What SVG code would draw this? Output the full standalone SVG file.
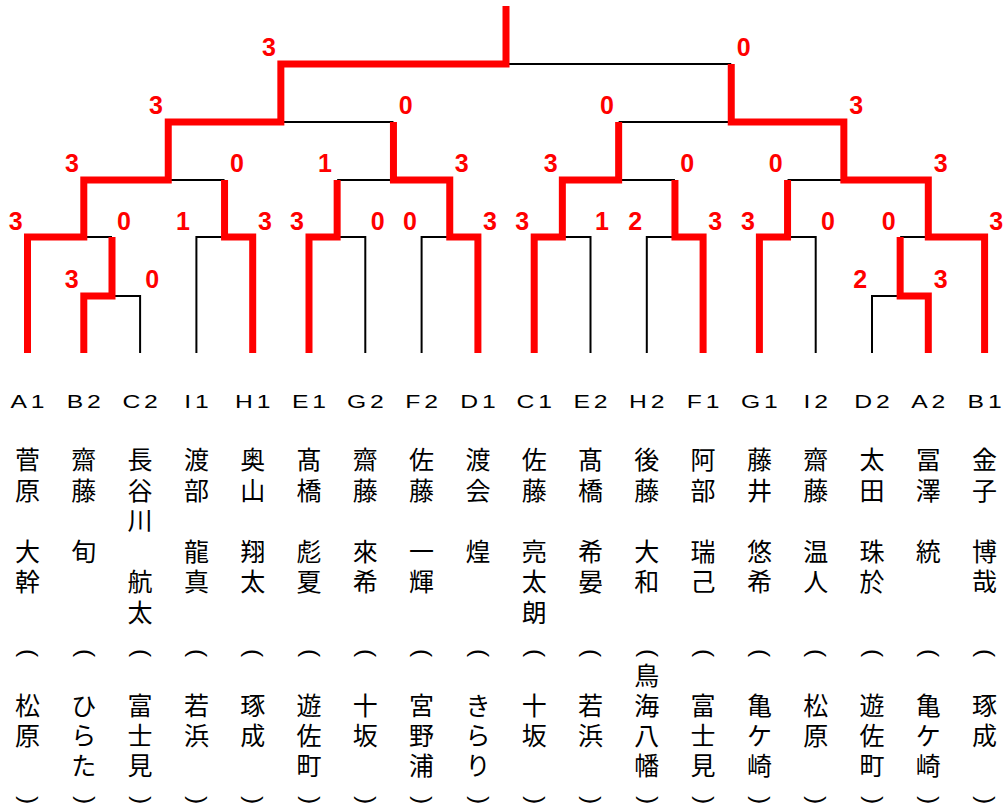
<svg xmlns="http://www.w3.org/2000/svg" width="1007" height="809" viewBox="0 0 1007 809">
<style>
.r{fill:none;stroke:#ff0000;stroke-width:7;stroke-linejoin:miter}
.k{fill:none;stroke:#000;stroke-width:2}
.s{font-family:"Liberation Sans",Arial,sans-serif;font-weight:bold;font-size:25px;fill:#ff0000;text-anchor:middle}
.c{font-family:"Liberation Sans",Arial,sans-serif;font-size:19px;letter-spacing:3px;text-anchor:middle;fill:#000}
.n{font-family:"Noto Sans CJK JP",sans-serif;font-size:25px;text-anchor:middle;dominant-baseline:central;fill:#000}
.p{font-family:"Liberation Sans",Arial,sans-serif;font-size:24.5px;text-anchor:middle;dominant-baseline:central;fill:#000}
</style>
<rect width="1007" height="809" fill="#fff"/>
<g id="connectors">
<g id="losers">
<path class="k" d="M112,296 H140.1 V353"/>
<path class="k" d="M83.8,237 H112"/>
<path class="k" d="M196.4,353 V237 H224.55"/>
<path class="k" d="M168.25,180 H224.55"/>
<path class="k" d="M337.15,237 H365.3 V353"/>
<path class="k" d="M421.6,353 V237 H449.75"/>
<path class="k" d="M337.15,180 H393.45"/>
<path class="k" d="M280.85,122 H393.45"/>
<path class="k" d="M506,64 H731.25"/>
<path class="k" d="M562.35,237 H590.5 V353"/>
<path class="k" d="M646.8,353 V237 H674.95"/>
<path class="k" d="M618.65,180 H674.95"/>
<path class="k" d="M787.55,237 H815.7 V353"/>
<path class="k" d="M872,353 V296 H900.15"/>
<path class="k" d="M900.15,237 H928.3"/>
<path class="k" d="M787.55,180 H843.85"/>
<path class="k" d="M618.65,122 H731.25"/>
</g>
<g id="winners">
<path class="r" d="M27.5,353 V237 H83.8 V180 H168.25 V122 H280.85 V64 H506 V6"/>
<path class="r" d="M83.8,353 V296 H112 V237"/>
<path class="r" d="M252.7,353 V237 H224.55 V180"/>
<path class="r" d="M309,353 V237 H337.15 V180"/>
<path class="r" d="M477.9,353 V237 H449.75 V180 H393.45 V122"/>
<path class="r" d="M984.6,353 V237 H928.3 V180 H843.85 V122 H731.25 V64"/>
<path class="r" d="M534.2,353 V237 H562.35 V180 H618.65 V122"/>
<path class="r" d="M703.1,353 V237 H674.95 V180"/>
<path class="r" d="M759.4,353 V237 H787.55 V180"/>
<path class="r" d="M928.3,353 V296 H900.15 V237"/>
</g>
</g>
<g id="scores">
<text class="s" x="269" y="56">3</text>
<text class="s" x="743.7" y="56">0</text>
<text class="s" x="156" y="114">3</text>
<text class="s" x="405.7" y="114">0</text>
<text class="s" x="607" y="114">0</text>
<text class="s" x="856.3" y="114">3</text>
<text class="s" x="72" y="172">3</text>
<text class="s" x="237" y="172">0</text>
<text class="s" x="325" y="172">1</text>
<text class="s" x="461.7" y="172">3</text>
<text class="s" x="550.7" y="172">3</text>
<text class="s" x="687.3" y="172">0</text>
<text class="s" x="775.7" y="172">0</text>
<text class="s" x="940.7" y="172">3</text>
<text class="s" x="15.7" y="230">3</text>
<text class="s" x="124" y="230">0</text>
<text class="s" x="183" y="230">1</text>
<text class="s" x="265" y="230">3</text>
<text class="s" x="297" y="230">3</text>
<text class="s" x="377.7" y="230">0</text>
<text class="s" x="410" y="230">0</text>
<text class="s" x="490" y="230">3</text>
<text class="s" x="522.3" y="230">3</text>
<text class="s" x="602" y="230">1</text>
<text class="s" x="635.3" y="230">2</text>
<text class="s" x="715.3" y="230">3</text>
<text class="s" x="748" y="230">3</text>
<text class="s" x="828" y="230">0</text>
<text class="s" x="888.7" y="230">0</text>
<text class="s" x="996.3" y="230">3</text>
<text class="s" x="71.7" y="288">3</text>
<text class="s" x="152.3" y="288">0</text>
<text class="s" x="860.3" y="288">2</text>
<text class="s" x="940.7" y="288">3</text>
</g>
<g id="p-A1">
<text class="c" transform="translate(27.5,408) scale(1.3,1)" x="1.5" y="0">A1</text>
<text class="n"><tspan x="27.5" y="458">菅</tspan><tspan x="27.5" y="488.6">原</tspan><tspan x="27.5" y="519.2">　</tspan><tspan x="27.5" y="549.8">大</tspan><tspan x="27.5" y="580.4">幹</tspan></text>
<text class="p" transform="rotate(90 27.5 653)" x="27.5" y="650.8">(</text>
<text class="n"><tspan x="27.5" y="704">松</tspan><tspan x="27.5" y="734">原</tspan></text>
<text class="p" transform="rotate(90 27.5 800)" x="27.5" y="797.8">)</text>
</g>
<g id="p-B2">
<text class="c" transform="translate(83.8,408) scale(1.3,1)" x="1.5" y="0">B2</text>
<text class="n"><tspan x="83.8" y="458">齋</tspan><tspan x="83.8" y="488.6">藤</tspan><tspan x="83.8" y="519.2">　</tspan><tspan x="83.8" y="549.8">旬</tspan></text>
<text class="p" transform="rotate(90 83.8 653)" x="83.8" y="650.8">(</text>
<text class="n"><tspan x="83.8" y="704">ひ</tspan><tspan x="83.8" y="734">ら</tspan><tspan x="83.8" y="764">た</tspan></text>
<text class="p" transform="rotate(90 83.8 800)" x="83.8" y="797.8">)</text>
</g>
<g id="p-C2">
<text class="c" transform="translate(140.1,408) scale(1.3,1)" x="1.5" y="0">C2</text>
<text class="n"><tspan x="140.1" y="458">長</tspan><tspan x="140.1" y="488.6">谷</tspan><tspan x="140.1" y="519.2">川</tspan><tspan x="140.1" y="549.8">　</tspan><tspan x="140.1" y="580.4">航</tspan><tspan x="140.1" y="611">太</tspan></text>
<text class="p" transform="rotate(90 140.1 653)" x="140.1" y="650.8">(</text>
<text class="n"><tspan x="140.1" y="704">富</tspan><tspan x="140.1" y="734">士</tspan><tspan x="140.1" y="764">見</tspan></text>
<text class="p" transform="rotate(90 140.1 800)" x="140.1" y="797.8">)</text>
</g>
<g id="p-I1">
<text class="c" transform="translate(196.4,408) scale(1.3,1)" x="1.5" y="0">I1</text>
<text class="n"><tspan x="196.4" y="458">渡</tspan><tspan x="196.4" y="488.6">部</tspan><tspan x="196.4" y="519.2">　</tspan><tspan x="196.4" y="549.8">龍</tspan><tspan x="196.4" y="580.4">真</tspan></text>
<text class="p" transform="rotate(90 196.4 653)" x="196.4" y="650.8">(</text>
<text class="n"><tspan x="196.4" y="704">若</tspan><tspan x="196.4" y="734">浜</tspan></text>
<text class="p" transform="rotate(90 196.4 800)" x="196.4" y="797.8">)</text>
</g>
<g id="p-H1">
<text class="c" transform="translate(252.7,408) scale(1.3,1)" x="1.5" y="0">H1</text>
<text class="n"><tspan x="252.7" y="458">奥</tspan><tspan x="252.7" y="488.6">山</tspan><tspan x="252.7" y="519.2">　</tspan><tspan x="252.7" y="549.8">翔</tspan><tspan x="252.7" y="580.4">太</tspan></text>
<text class="p" transform="rotate(90 252.7 653)" x="252.7" y="650.8">(</text>
<text class="n"><tspan x="252.7" y="704">琢</tspan><tspan x="252.7" y="734">成</tspan></text>
<text class="p" transform="rotate(90 252.7 800)" x="252.7" y="797.8">)</text>
</g>
<g id="p-E1">
<text class="c" transform="translate(309,408) scale(1.3,1)" x="1.5" y="0">E1</text>
<text class="n"><tspan x="309" y="458">髙</tspan><tspan x="309" y="488.6">橋</tspan><tspan x="309" y="519.2">　</tspan><tspan x="309" y="549.8">彪</tspan><tspan x="309" y="580.4">夏</tspan></text>
<text class="p" transform="rotate(90 309 653)" x="309" y="650.8">(</text>
<text class="n"><tspan x="309" y="704">遊</tspan><tspan x="309" y="734">佐</tspan><tspan x="309" y="764">町</tspan></text>
<text class="p" transform="rotate(90 309 800)" x="309" y="797.8">)</text>
</g>
<g id="p-G2">
<text class="c" transform="translate(365.3,408) scale(1.3,1)" x="1.5" y="0">G2</text>
<text class="n"><tspan x="365.3" y="458">齋</tspan><tspan x="365.3" y="488.6">藤</tspan><tspan x="365.3" y="519.2">　</tspan><tspan x="365.3" y="549.8">來</tspan><tspan x="365.3" y="580.4">希</tspan></text>
<text class="p" transform="rotate(90 365.3 653)" x="365.3" y="650.8">(</text>
<text class="n"><tspan x="365.3" y="704">十</tspan><tspan x="365.3" y="734">坂</tspan></text>
<text class="p" transform="rotate(90 365.3 800)" x="365.3" y="797.8">)</text>
</g>
<g id="p-F2">
<text class="c" transform="translate(421.6,408) scale(1.3,1)" x="1.5" y="0">F2</text>
<text class="n"><tspan x="421.6" y="458">佐</tspan><tspan x="421.6" y="488.6">藤</tspan><tspan x="421.6" y="519.2">　</tspan><tspan x="421.6" y="549.8">一</tspan><tspan x="421.6" y="580.4">輝</tspan></text>
<text class="p" transform="rotate(90 421.6 653)" x="421.6" y="650.8">(</text>
<text class="n"><tspan x="421.6" y="704">宮</tspan><tspan x="421.6" y="734">野</tspan><tspan x="421.6" y="764">浦</tspan></text>
<text class="p" transform="rotate(90 421.6 800)" x="421.6" y="797.8">)</text>
</g>
<g id="p-D1">
<text class="c" transform="translate(477.9,408) scale(1.3,1)" x="1.5" y="0">D1</text>
<text class="n"><tspan x="477.9" y="458">渡</tspan><tspan x="477.9" y="488.6">会</tspan><tspan x="477.9" y="519.2">　</tspan><tspan x="477.9" y="549.8">煌</tspan></text>
<text class="p" transform="rotate(90 477.9 653)" x="477.9" y="650.8">(</text>
<text class="n"><tspan x="477.9" y="704">き</tspan><tspan x="477.9" y="734">ら</tspan><tspan x="477.9" y="764">り</tspan></text>
<text class="p" transform="rotate(90 477.9 800)" x="477.9" y="797.8">)</text>
</g>
<g id="p-C1">
<text class="c" transform="translate(534.2,408) scale(1.3,1)" x="1.5" y="0">C1</text>
<text class="n"><tspan x="534.2" y="458">佐</tspan><tspan x="534.2" y="488.6">藤</tspan><tspan x="534.2" y="519.2">　</tspan><tspan x="534.2" y="549.8">亮</tspan><tspan x="534.2" y="580.4">太</tspan><tspan x="534.2" y="611">朗</tspan></text>
<text class="p" transform="rotate(90 534.2 653)" x="534.2" y="650.8">(</text>
<text class="n"><tspan x="534.2" y="704">十</tspan><tspan x="534.2" y="734">坂</tspan></text>
<text class="p" transform="rotate(90 534.2 800)" x="534.2" y="797.8">)</text>
</g>
<g id="p-E2">
<text class="c" transform="translate(590.5,408) scale(1.3,1)" x="1.5" y="0">E2</text>
<text class="n"><tspan x="590.5" y="458">髙</tspan><tspan x="590.5" y="488.6">橋</tspan><tspan x="590.5" y="519.2">　</tspan><tspan x="590.5" y="549.8">希</tspan><tspan x="590.5" y="580.4">晏</tspan></text>
<text class="p" transform="rotate(90 590.5 653)" x="590.5" y="650.8">(</text>
<text class="n"><tspan x="590.5" y="704">若</tspan><tspan x="590.5" y="734">浜</tspan></text>
<text class="p" transform="rotate(90 590.5 800)" x="590.5" y="797.8">)</text>
</g>
<g id="p-H2">
<text class="c" transform="translate(646.8,408) scale(1.3,1)" x="1.5" y="0">H2</text>
<text class="n"><tspan x="646.8" y="458">後</tspan><tspan x="646.8" y="488.6">藤</tspan><tspan x="646.8" y="519.2">　</tspan><tspan x="646.8" y="549.8">大</tspan><tspan x="646.8" y="580.4">和</tspan></text>
<text class="p" transform="rotate(90 646.8 653)" x="646.8" y="650.8">(</text>
<text class="n"><tspan x="646.8" y="674">鳥</tspan><tspan x="646.8" y="704">海</tspan><tspan x="646.8" y="734">八</tspan><tspan x="646.8" y="764">幡</tspan></text>
<text class="p" transform="rotate(90 646.8 800)" x="646.8" y="797.8">)</text>
</g>
<g id="p-F1">
<text class="c" transform="translate(703.1,408) scale(1.3,1)" x="1.5" y="0">F1</text>
<text class="n"><tspan x="703.1" y="458">阿</tspan><tspan x="703.1" y="488.6">部</tspan><tspan x="703.1" y="519.2">　</tspan><tspan x="703.1" y="549.8">瑞</tspan><tspan x="703.1" y="580.4">己</tspan></text>
<text class="p" transform="rotate(90 703.1 653)" x="703.1" y="650.8">(</text>
<text class="n"><tspan x="703.1" y="704">富</tspan><tspan x="703.1" y="734">士</tspan><tspan x="703.1" y="764">見</tspan></text>
<text class="p" transform="rotate(90 703.1 800)" x="703.1" y="797.8">)</text>
</g>
<g id="p-G1">
<text class="c" transform="translate(759.4,408) scale(1.3,1)" x="1.5" y="0">G1</text>
<text class="n"><tspan x="759.4" y="458">藤</tspan><tspan x="759.4" y="488.6">井</tspan><tspan x="759.4" y="519.2">　</tspan><tspan x="759.4" y="549.8">悠</tspan><tspan x="759.4" y="580.4">希</tspan></text>
<text class="p" transform="rotate(90 759.4 653)" x="759.4" y="650.8">(</text>
<text class="n"><tspan x="759.4" y="704">亀</tspan><tspan x="759.4" y="734">ケ</tspan><tspan x="759.4" y="764">崎</tspan></text>
<text class="p" transform="rotate(90 759.4 800)" x="759.4" y="797.8">)</text>
</g>
<g id="p-I2">
<text class="c" transform="translate(815.7,408) scale(1.3,1)" x="1.5" y="0">I2</text>
<text class="n"><tspan x="815.7" y="458">齋</tspan><tspan x="815.7" y="488.6">藤</tspan><tspan x="815.7" y="519.2">　</tspan><tspan x="815.7" y="549.8">温</tspan><tspan x="815.7" y="580.4">人</tspan></text>
<text class="p" transform="rotate(90 815.7 653)" x="815.7" y="650.8">(</text>
<text class="n"><tspan x="815.7" y="704">松</tspan><tspan x="815.7" y="734">原</tspan></text>
<text class="p" transform="rotate(90 815.7 800)" x="815.7" y="797.8">)</text>
</g>
<g id="p-D2">
<text class="c" transform="translate(872,408) scale(1.3,1)" x="1.5" y="0">D2</text>
<text class="n"><tspan x="872" y="458">太</tspan><tspan x="872" y="488.6">田</tspan><tspan x="872" y="519.2">　</tspan><tspan x="872" y="549.8">珠</tspan><tspan x="872" y="580.4">於</tspan></text>
<text class="p" transform="rotate(90 872 653)" x="872" y="650.8">(</text>
<text class="n"><tspan x="872" y="704">遊</tspan><tspan x="872" y="734">佐</tspan><tspan x="872" y="764">町</tspan></text>
<text class="p" transform="rotate(90 872 800)" x="872" y="797.8">)</text>
</g>
<g id="p-A2">
<text class="c" transform="translate(928.3,408) scale(1.3,1)" x="1.5" y="0">A2</text>
<text class="n"><tspan x="928.3" y="458">冨</tspan><tspan x="928.3" y="488.6">澤</tspan><tspan x="928.3" y="519.2">　</tspan><tspan x="928.3" y="549.8">統</tspan></text>
<text class="p" transform="rotate(90 928.3 653)" x="928.3" y="650.8">(</text>
<text class="n"><tspan x="928.3" y="704">亀</tspan><tspan x="928.3" y="734">ケ</tspan><tspan x="928.3" y="764">崎</tspan></text>
<text class="p" transform="rotate(90 928.3 800)" x="928.3" y="797.8">)</text>
</g>
<g id="p-B1">
<text class="c" transform="translate(984.6,408) scale(1.3,1)" x="1.5" y="0">B1</text>
<text class="n"><tspan x="984.6" y="458">金</tspan><tspan x="984.6" y="488.6">子</tspan><tspan x="984.6" y="519.2">　</tspan><tspan x="984.6" y="549.8">博</tspan><tspan x="984.6" y="580.4">哉</tspan></text>
<text class="p" transform="rotate(90 984.6 653)" x="984.6" y="650.8">(</text>
<text class="n"><tspan x="984.6" y="704">琢</tspan><tspan x="984.6" y="734">成</tspan></text>
<text class="p" transform="rotate(90 984.6 800)" x="984.6" y="797.8">)</text>
</g>
</svg>
